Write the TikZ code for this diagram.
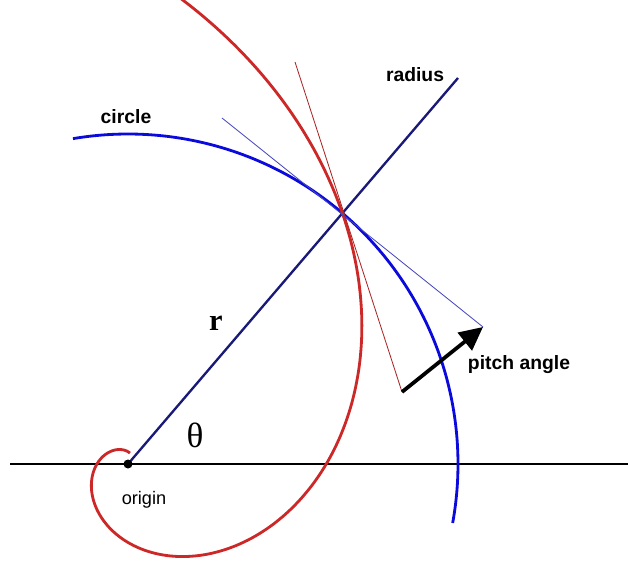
\documentclass[tikz,border=0pt]{standalone}
\usepackage{fontspec}
\setmainfont{Liberation Serif}
\newfontfamily\arialfont{Liberation Sans}
\usepackage{tikz}
\usetikzlibrary{arrows.meta, calc}

\definecolor{navyline}{RGB}{25,25,120}
\definecolor{circblue}{RGB}{10,10,220}
\definecolor{spiralred}{RGB}{205,40,40}
\definecolor{thinred}{RGB}{170,35,35}
\definecolor{thinblue}{RGB}{70,70,190}

\begin{document}
\begin{tikzpicture}[x=0.03cm, y=0.03cm,
    lbl/.style={font=\arialfont\bfseries\fontsize{16.5}{18}\selectfont, inner sep=0pt},
    thinline/.style={line width=0.7pt}]
  \useasboundingbox (0,0) rectangle (628,562);
  \clip (0,0) rectangle (628,562);

  % origin, axis and radius
  \coordinate (O) at (128,98);
  \coordinate (axisL) at (10,98);
  \coordinate (axisR) at (628,98);
  \coordinate (radEnd) at (458,484);
  \draw[line width=2.5pt] (axisL) -- (axisR);
  \draw[navyline, line width=2pt] (O) -- (radEnd);
  \fill (O) circle[radius=4.5];

  % circle through P
  \coordinate (P) at ($(O)+(49.5:330)$);
  \draw[circblue, line width=2.4pt] ($(O)+(99.6:330)$) arc[start angle=99.6, end angle=-10.3, radius=330];

  % logarithmic spiral
  \draw[spiralred, line width=2.4pt, shift={(O)}]
    plot[domain=80:445, samples=240, smooth] (\x:{330*exp(0.59*(\x-409.5)*pi/180)});

  % tangents at P
  \coordinate (blueStart) at (222,444);
  \coordinate (blueEnd) at (483,235);
  \coordinate (redStart) at (295,500);
  \coordinate (redEnd) at (402,170);
  \draw[thinblue, thinline] (blueStart) -- (blueEnd);
  \draw[thinred, thinline] (redStart) -- (redEnd);

  % pitch angle arrow
  \draw[line width=3.2pt, -{Triangle[length=20pt, width=19pt]}] (redEnd) -- (blueEnd);

  % labels
  \node[lbl] (radiuslbl) at (415,487) {radius};
  \node[lbl] (circlelbl) at (126,445) {circle};
  \node[lbl] (pitchlbl) at (519,197) {pitch angle};
  \node[font=\arialfont\fontsize{15.5}{17}\selectfont, inner sep=0pt] (originlbl) at (144,62) {origin};
  \node[font=\bfseries\fontsize{26}{28}\selectfont, inner sep=0pt] (rlbl) at (216,239) {r};
  \node[font=\fontsize{30}{32}\selectfont, inner sep=0pt] (thetalbl) at (195,127) {θ};
\end{tikzpicture}
\end{document}
